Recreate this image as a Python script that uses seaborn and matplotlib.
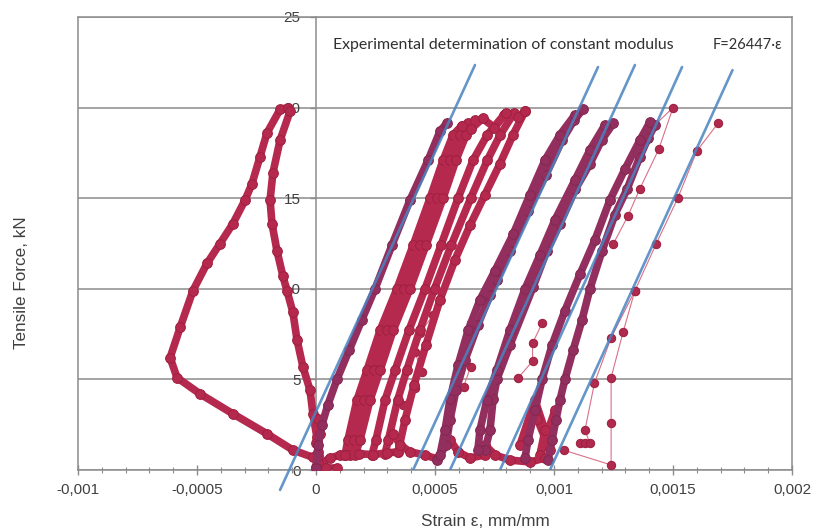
import numpy as np
import pandas as pd
import matplotlib
matplotlib.use("Agg")
import matplotlib.pyplot as plt
import seaborn as sns

sns.set_theme(style="white")
plt.rcParams['font.family'] = ['Liberation Sans', 'DejaVu Sans']

# ---------------- data (strain in mm/mm, force in kN) ----------------
# negative loop
loop0_strain = [0.00001, -0.000013, -0.000097, -0.000206, -0.000349, -0.000487, -0.000584, -0.000613,
                -0.00057, -0.000517, -0.000458, -0.000403, -0.000349, -0.000298, -0.000269, -0.000235,
                -0.000206, -0.000151, -0.000118, -0.000109, -0.000151, -0.000181, -0.000193, -0.000185,
                -0.000164, -0.000139, -0.000122, -0.000097, -0.00008, -0.000055, -0.000025, -0.000013,
                0.000004, 0.00001]
loop0_force = [0.4, 0.7, 1.1, 2.0, 3.1, 4.2, 5.1, 6.2, 7.9, 9.9, 11.4, 12.5, 13.6, 14.9, 15.8, 17.3,
               18.6, 19.9, 20.0, 19.8, 18.2, 16.4, 14.9, 13.6, 12.1, 10.7, 9.9, 8.7, 7.2, 5.7, 4.4, 3.1,
               1.8, 0.8]
orig_strain = [0.00009, 0.00004, 0.0, 0.00001, 0.000015, 0.00001, 0.0]
orig_force = [0.12, 0.1, 0.15, 1.0, 2.0, 2.8, 1.5]
# first loading branch
load1_strain = [0.0, 0.00001, 0.000025, 0.00005, 0.000088, 0.000139, 0.000193, 0.000248, 0.000319,
                0.000395, 0.000471, 0.000521, 0.00055]
load1_force = [0.1, 1.4, 2.5, 3.6, 5.0, 6.6, 8.3, 10.0, 12.4, 14.9, 17.1, 18.7, 19.15]
# broad band of repeated cycles
bandB_strain = [0.000122, 0.000134, 0.000172, 0.000214, 0.000269, 0.00034, 0.000408, 0.000479, 0.000534,
                0.000576, 0.000613]
bandB_force = [0.83, 1.66, 3.86, 5.5, 7.7, 10.0, 12.4, 15.0, 17.1, 18.5, 19.0]
bandBC_strain = [0.000143, 0.00016, 0.0002, 0.000242, 0.000297, 0.000368, 0.000435, 0.000507, 0.000561,
                 0.000604, 0.00064]
bandBC_force = [0.83, 1.66, 3.86, 5.5, 7.7, 10.0, 12.4, 15.0, 17.1, 18.5, 19.15]
bandC_strain = [0.000164, 0.000185, 0.000227, 0.000269, 0.000324, 0.000395, 0.000462, 0.000534, 0.000588,
                0.000631, 0.000668]
bandC_force = [0.83, 1.66, 3.86, 5.5, 7.7, 10.0, 12.4, 15.0, 17.1, 18.5, 19.3]
bandD_strain = [0.000235, 0.000252, 0.00029, 0.000332, 0.00039, 0.000458, 0.000525, 0.000597, 0.00066,
                0.00072, 0.00079]
bandD_force = [0.83, 1.66, 3.86, 5.5, 7.7, 10.0, 12.4, 15.0, 17.1, 18.5, 19.6]
bandDE_strain = [0.00029, 0.000304, 0.000343, 0.000381, 0.000436, 0.000498, 0.000568, 0.00065, 0.00072,
                 0.000774, 0.000832]
bandDE_force = [0.9, 1.66, 3.86, 5.5, 7.7, 10.0, 12.4, 15.0, 17.1, 18.5, 19.7]
bandE_strain = [0.000345, 0.000374, 0.000412, 0.000462, 0.000521, 0.000584, 0.000647, 0.00071, 0.000773,
                0.000828, 0.000878]
bandE_force = [1.0, 2.76, 4.7, 6.9, 9.4, 11.6, 13.5, 15.2, 16.9, 18.5, 19.8]
bandtop_strain = [0.000613, 0.00065, 0.0007, 0.00075, 0.0008, 0.00085, 0.000878]
bandtop_force = [19.0, 18.8, 19.4, 18.9, 19.7, 19.5, 19.8]
bandbot_strain = [0.000122, 0.00018, 0.00024, 0.0003, 0.000345]
bandbot_force = [0.83, 0.9, 0.85, 0.95, 1.0]
conn0_strain = [0.00001, 0.000059, 0.000101, 0.000122]
conn0_force = [0.28, 0.66, 0.83, 0.83]
conn1_strain = [0.000324, 0.000353, 0.000395, 0.000458, 0.00051]
conn1_force = [2.0, 1.4, 1.0, 0.83, 0.6]
# cycle 2
c2a_strain = [0.00051, 0.000546, 0.000563, 0.000588, 0.000626, 0.00068, 0.000731, 0.00076, 0.000815,
              0.00089, 0.000966, 0.001034, 0.001084, 0.001122]
c2a_force = [0.55, 1.38, 2.76, 4.4, 6.07, 8.0, 9.66, 10.5, 12.1, 14.3, 16.3, 18.2, 19.3, 19.9]
c2b_strain = [0.001088, 0.001025, 0.000962, 0.000899, 0.000828, 0.000752, 0.000689, 0.000639, 0.000597,
              0.000563, 0.000542, 0.000521]
c2b_force = [19.6, 18.5, 17.1, 15.2, 13.0, 11.0, 9.4, 7.7, 5.8, 3.9, 2.2, 0.83]
conn2_strain = [0.000563, 0.000597, 0.000647, 0.00071]
conn2_force = [1.66, 1.0, 0.66, 0.83]
# cycle 3
c3a_strain = [0.00071, 0.000731, 0.000744, 0.00076, 0.000815, 0.000912, 0.00097, 0.001025, 0.00109,
              0.001151, 0.0012, 0.00125]
c3a_force = [1.1, 2.2, 3.9, 5.0, 6.9, 10.1, 12.1, 13.6, 15.5, 16.9, 18.2, 19.15]
c3b_strain = [0.001214, 0.001151, 0.001088, 0.001004, 0.000941, 0.000878, 0.000815, 0.00076, 0.000718,
              0.000689, 0.00068]
c3b_force = [19.04, 17.66, 16.0, 13.8, 11.87, 9.99, 7.73, 5.52, 3.86, 2.21, 1.1]
conn3_strain = [0.00071, 0.000752, 0.000815, 0.000899, 0.000962]
conn3_force = [1.38, 0.83, 0.55, 0.44, 0.66]
# cycle 4
c4a_strain = [0.000975, 0.000992, 0.001008, 0.001025, 0.001046, 0.00108, 0.001118, 0.001151, 0.001202,
              0.001256, 0.001307, 0.001361, 0.001395, 0.001424]
c4a_force = [0.55, 1.66, 2.76, 3.86, 5.0, 6.6, 8.3, 10.0, 12.1, 14.1, 15.5, 17.3, 18.3, 19.04]
c4b_strain = [0.001403, 0.001361, 0.001298, 0.001235, 0.001172, 0.001109, 0.001046, 0.000992, 0.00095,
              0.00092, 0.000891, 0.000878]
c4b_force = [19.2, 18.2, 16.6, 14.9, 12.7, 10.8, 8.8, 6.9, 5.0, 3.3, 1.66, 0.66]
c4blob_strain = [0.000857, 0.00092, 0.000962, 0.000941, 0.001004, 0.000983, 0.00093]
c4blob_force = [1.38, 3.86, 2.2, 0.83, 3.3, 1.1, 2.8]
# sparse points
s1_strain = [0.000492, 0.000437, 0.000416, 0.000445, 0.000416, 0.000366]
s1_force = [8.55, 7.56, 6.5, 5.4, 4.5, 3.6]
s2_strain = [0.001424, 0.0015, 0.00144, 0.00136, 0.00131, 0.00125]
s2_force = [19.04, 20.0, 17.7, 15.5, 14.0, 12.5]
s3_strain = [0.00095, 0.00091, 0.00091, 0.00085]
s3_force = [8.1, 7.0, 6.0, 5.1]
s4_strain = [0.00065, 0.00063, 0.00065, 0.00062]
s4_force = [8.1, 7.2, 5.7, 4.6]
s5a_strain = [0.00104, 0.00124, 0.00124, 0.00124, 0.00129, 0.00134, 0.00143, 0.00152, 0.0016, 0.00169]
s5a_force = [1.1, 0.28, 2.6, 5.1, 7.6, 9.9, 12.5, 15.0, 17.6, 19.15]
s5b_strain = [0.00111, 0.00113, 0.00115, 0.00113, 0.00117, 0.00124, 0.00134]
s5b_force = [1.5, 1.5, 1.5, 2.2, 4.8, 7.3, 9.9]
# constant-modulus lines (start / end points)
fit_strain_start = [-0.000151, 0.000408, 0.000563, 0.000773, 0.000983]
fit_force_start = [-1.1, 0.0, 0.0, 0.0, 0.0]
fit_strain_end = [0.000668, 0.001185, 0.00134, 0.001538, 0.00175]
fit_force_end = [22.35, 22.24, 22.35, 22.24, 22.07]

x_ticks = [-0.001, -0.0005, 0.0, 0.0005, 0.001, 0.0015, 0.002]
x_ticklabels = ['-0,001', '-0,0005', '0', '0,0005', '0,001', '0,0015', '0,002']
y_ticks = [0, 5, 10, 15, 20, 25]
y_ticklabels = ['0', '5', '10', '15', '20', '25']

title_text = "Experimental determination of constant modulus"
eq_text = "F=26447·ε"
x_label = "Strain ε, mm/mm"
y_label = "Tensile Force, kN"


def frame(groups):
    rows = []
    for name, xs, ys in groups:
        for i, (a, b) in enumerate(zip(xs, ys)):
            rows.append((name, i, a, b))
    return pd.DataFrame(rows, columns=["strand", "order", "strain", "force"])


red_df = frame([
    ("loop0", loop0_strain, loop0_force), ("orig", orig_strain, orig_force),
    ("bandB", bandB_strain, bandB_force), ("bandBC", bandBC_strain, bandBC_force),
    ("bandC", bandC_strain, bandC_force),
    ("bandD", bandD_strain, bandD_force), ("bandDE", bandDE_strain, bandDE_force),
    ("bandE", bandE_strain, bandE_force),
    ("bandtop", bandtop_strain, bandtop_force), ("bandbot", bandbot_strain, bandbot_force),
    ("conn0", conn0_strain, conn0_force), ("conn1", conn1_strain, conn1_force),
    ("conn2", conn2_strain, conn2_force), ("conn3", conn3_strain, conn3_force),
    ("c4blob", c4blob_strain, c4blob_force),
])
purple_df = frame([
    ("load1", load1_strain, load1_force),
    ("c2a", c2a_strain, c2a_force), ("c2b", c2b_strain, c2b_force),
    ("c3a", c3a_strain, c3a_force), ("c3b", c3b_strain, c3b_force),
    ("c4a", c4a_strain, c4a_force), ("c4b", c4b_strain, c4b_force),
])
sparse_df = frame([
    ("s1", s1_strain, s1_force), ("s2", s2_strain, s2_force), ("s3", s3_strain, s3_force),
    ("s4", s4_strain, s4_force), ("s5a", s5a_strain, s5a_force), ("s5b", s5b_strain, s5b_force),
])
fit_df = pd.DataFrame({
    "strand": np.repeat(np.arange(len(fit_strain_start)), 2),
    "strain": np.ravel(np.column_stack([fit_strain_start, fit_strain_end])),
    "force": np.ravel(np.column_stack([fit_force_start, fit_force_end])),
})

# ---------------- figure ----------------
W, H = 814, 531
fig = plt.figure(figsize=(W / 100, H / 100), dpi=100)
ax = fig.add_axes([78 / W, 1 - 470 / H, (792 - 78) / W, (470 - 17) / H])
grey = '#8c8c8c'
txt = '#404040'

ax.set_xlim(-0.001, 0.002)
ax.set_ylim(0, 25)
ax.set_yticks(y_ticks[1:])
ax.yaxis.grid(True, color=grey, lw=1.1)
ax.set_axisbelow(True)

red = '#B5294F'
purple = '#932F5F'
sns.lineplot(data=sparse_df, x="strain", y="force", units="strand", estimator=None, sort=False,
             color='#D9708A', lw=0.8, marker='o', markersize=6, markeredgecolor='#A0203F',
             markerfacecolor='#B02A50', ax=ax, legend=False, zorder=3)
sns.lineplot(data=red_df, x="strain", y="force", units="strand", estimator=None, sort=False,
             color=red, lw=5.5, marker='o', markersize=7, markeredgecolor='#A0203F',
             ax=ax, legend=False, zorder=3)
sns.lineplot(data=purple_df, x="strain", y="force", units="strand", estimator=None, sort=False,
             color=purple, lw=5.5, marker='o', markersize=7, markeredgecolor='#82284F',
             ax=ax, legend=False, zorder=3)
for k, (_, g) in enumerate(fit_df.groupby("strand")):
    ax.plot(g["strain"], g["force"], color='#4A84C0', lw=1.9, alpha=0.85, zorder=4,
            clip_on=(k != 0))

# axes decoration
for s in ['top', 'right', 'bottom']:
    ax.spines[s].set_color(grey)
    ax.spines[s].set_linewidth(1.1)
    ax.spines[s].set_visible(True)
ax.spines['left'].set_position(('data', 0))
ax.spines['left'].set_color(grey)
ax.spines['left'].set_linewidth(1.1)
ax.axvline(-0.001, color=grey, lw=1.1, clip_on=False, zorder=1)

ax.set_xticks(x_ticks)
ax.set_xticklabels(x_ticklabels)
ax.set_yticks(y_ticks)
ax.set_yticklabels(y_ticklabels)
ax.set_xticks(np.arange(-0.001, 0.0020001, 0.0001), minor=True)
ax.tick_params(axis='x', which='major', direction='inout', length=7, width=1, color=grey,
               pad=6, labelsize=11, labelcolor=txt, bottom=True)
ax.tick_params(axis='x', which='minor', direction='inout', length=4, width=0.8, color=grey,
               bottom=True)
ax.tick_params(axis='y', which='major', direction='out', length=4, width=1, color=grey,
               pad=7, labelsize=11, labelcolor=txt, left=True)
ax.set_xlabel("")
ax.set_ylabel("")

ax.text(0.0000714, 23.45, title_text, fontsize=11.4, color='#303030', family=['Lato', 'DejaVu Sans'],
        ha='left', va='center')
ax.text(0.00196, 23.45, eq_text, fontsize=10.5, color='#303030', family=['Lato', 'DejaVu Sans'],
        ha='right', va='center')

fig.text(485 / W, 1 - 522 / H, x_label, fontsize=12.3, color=txt, ha='center', va='center')
fig.text(22 / W, 1 - 283 / H, y_label, fontsize=12.3, color=txt, ha='center', va='center',
         rotation=90)

fig.savefig("out.png", dpi=100, facecolor='white')
